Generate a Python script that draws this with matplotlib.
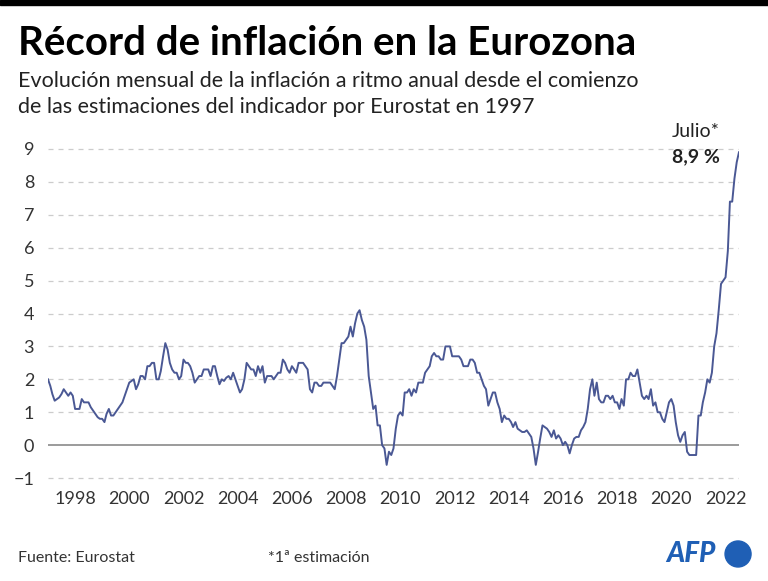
import matplotlib.pyplot as plt
from matplotlib.patches import Ellipse, Rectangle
import pandas as pd

# Eurozone annual inflation rate (%), monthly, Jan 1997 - Jul 2022
y1997 = [2.0, 1.8, 1.55, 1.35, 1.4, 1.45, 1.55, 1.7, 1.6, 1.5, 1.6, 1.5]
y1998 = [1.1, 1.1, 1.1, 1.4, 1.3, 1.3, 1.3, 1.15, 1.05, 0.95, 0.85, 0.8]
y1999 = [0.8, 0.7, 0.95, 1.1, 0.9, 0.9, 1.0, 1.1, 1.2, 1.3, 1.5, 1.7]
y2000 = [1.9, 1.95, 2.0, 1.7, 1.85, 2.1, 2.1, 2.0, 2.4, 2.4, 2.5, 2.5]
y2001 = [2.0, 2.0, 2.25, 2.7, 3.1, 2.9, 2.5, 2.3, 2.2, 2.2, 2.0, 2.1]
y2002 = [2.6, 2.5, 2.5, 2.4, 2.2, 1.9, 2.0, 2.1, 2.1, 2.3, 2.3, 2.3]
y2003 = [2.1, 2.4, 2.4, 2.1, 1.85, 2.0, 1.95, 2.05, 2.1, 2.0, 2.2, 2.0]
y2004 = [1.8, 1.6, 1.7, 2.0, 2.5, 2.4, 2.3, 2.3, 2.1, 2.4, 2.2, 2.4]
y2005 = [1.9, 2.1, 2.1, 2.1, 2.0, 2.1, 2.2, 2.2, 2.6, 2.5, 2.3, 2.2]
y2006 = [2.4, 2.3, 2.2, 2.5, 2.5, 2.5, 2.4, 2.3, 1.7, 1.6, 1.9, 1.9]
y2007 = [1.8, 1.8, 1.9, 1.9, 1.9, 1.9, 1.8, 1.7, 2.1, 2.6, 3.1, 3.1]
y2008 = [3.2, 3.3, 3.6, 3.3, 3.7, 4.0, 4.1, 3.8, 3.6, 3.2, 2.1, 1.6]
y2009 = [1.1, 1.2, 0.6, 0.6, 0.0, -0.1, -0.6, -0.2, -0.3, -0.1, 0.5, 0.9]
y2010 = [1.0, 0.9, 1.6, 1.6, 1.7, 1.5, 1.7, 1.6, 1.9, 1.9, 1.9, 2.2]
y2011 = [2.3, 2.4, 2.7, 2.8, 2.7, 2.7, 2.6, 2.6, 3.0, 3.0, 3.0, 2.7]
y2012 = [2.7, 2.7, 2.7, 2.6, 2.4, 2.4, 2.4, 2.6, 2.6, 2.5, 2.2, 2.2]
y2013 = [2.0, 1.8, 1.7, 1.2, 1.4, 1.6, 1.6, 1.3, 1.1, 0.7, 0.9, 0.8]
y2014 = [0.8, 0.7, 0.55, 0.7, 0.5, 0.45, 0.4, 0.4, 0.45, 0.35, 0.25, -0.1]
y2015 = [-0.6, -0.2, 0.2, 0.6, 0.55, 0.5, 0.4, 0.25, 0.45, 0.2, 0.3, 0.2]
y2016 = [0.0, 0.1, 0.0, -0.25, 0.0, 0.2, 0.25, 0.25, 0.45, 0.55, 0.7, 1.1]
y2017 = [1.7, 2.0, 1.5, 1.9, 1.4, 1.3, 1.3, 1.5, 1.5, 1.4, 1.5, 1.3]
y2018 = [1.3, 1.1, 1.4, 1.2, 2.0, 2.0, 2.2, 2.1, 2.1, 2.3, 1.9, 1.5]
y2019 = [1.4, 1.5, 1.4, 1.7, 1.2, 1.3, 1.0, 1.0, 0.8, 0.7, 1.0, 1.3]
y2020 = [1.4, 1.2, 0.7, 0.3, 0.1, 0.3, 0.4, -0.2, -0.3, -0.3, -0.3, -0.3]
y2021 = [0.9, 0.9, 1.3, 1.6, 2.0, 1.9, 2.2, 3.0, 3.4, 4.1, 4.9, 5.0]
y2022 = [5.1, 5.9, 7.4, 7.4, 8.1, 8.6, 8.9]

inflation = (y1997 + y1998 + y1999 + y2000 + y2001 + y2002 + y2003 + y2004
             + y2005 + y2006 + y2007 + y2008 + y2009 + y2010 + y2011 + y2012
             + y2013 + y2014 + y2015 + y2016 + y2017 + y2018 + y2019 + y2020
             + y2021 + y2022)
months = pd.date_range('1997-01-01', periods=len(inflation), freq='MS')

year_ticks = list(range(1998, 2023, 2))
y_ticks = [-1, 0, 1, 2, 3, 4, 5, 6, 7, 8, 9]
y_labels = ['\u22121', '0', '1', '2', '3', '4', '5', '6', '7', '8', '9']

plt.rcParams['font.family'] = ['Lato', 'DejaVu Sans']
line_color = '#4a5894'
text_color = '#222222'

fig = plt.figure(figsize=(7.68, 5.81), dpi=100)
ax = fig.add_axes([0.0625, 0.1602, 0.8997, 0.6004])

for v in y_ticks:
    if v == 0:
        ax.axhline(v, color='#8a8a8a', lw=1.2, zorder=1)
    else:
        ax.axhline(v, color='#cccccc', lw=0.9, ls=(0, (4, 4)), zorder=1)

ax.plot(months, inflation, color=line_color, lw=1.4, zorder=3)

ax.set_xlim(months[0], months[-1])
ax.set_ylim(-1.3, 9.3)
ax.set_yticks(y_ticks)
ax.set_yticklabels(y_labels, fontsize=13, color='#333333')
ax.set_xticks([pd.Timestamp(f'{y}-01-01') for y in year_ticks])
ax.set_xticklabels([str(y) for y in year_ticks], fontsize=13, color='#333333')
ax.tick_params(axis='both', length=0)
ax.tick_params(axis='y', pad=10)
ax.tick_params(axis='x', pad=2)
for s in ax.spines.values():
    s.set_visible(False)

# label of the last value
fig.text(0.9375, 0.7745, 'Julio*', ha='right', va='center', fontsize=14,
         color=text_color)
fig.text(0.9375, 0.7298, '8,9 %', ha='right', va='center', fontsize=14,
         fontweight='bold', color=text_color)

# top bar, title, subtitle
fig.patches.append(Rectangle((0, 0.991), 1, 0.009, transform=fig.transFigure,
                             color='black'))
fig.text(0.023, 0.905, 'Récord de inflación en la Eurozona', fontsize=29,
         fontweight='bold', color='black', va='baseline')
fig.text(0.023, 0.85, 'Evolución mensual de la inflación a ritmo anual desde el comienzo',
         fontsize=15.5, color=text_color, va='baseline')
fig.text(0.023, 0.806, 'de las estimaciones del indicador por Eurostat en 1997',
         fontsize=15.5, color=text_color, va='baseline')

# footer
fig.text(0.023, 0.032, 'Fuente: Eurostat', fontsize=11.5, color='#333333', va='baseline')
fig.text(0.349, 0.032, '*1ª estimación', fontsize=11.5, color='#333333', va='baseline')
afp_blue = '#1f5fb5'
fig.text(0.868, 0.032, 'AFP', fontsize=20, fontweight='black', style='italic',
         color=afp_blue, va='baseline')
fig.patches.append(Ellipse((0.961, 0.0465), 26 / 768, 26 / 581,
                           transform=fig.transFigure, color=afp_blue))

fig.savefig('out.png', dpi=100)
